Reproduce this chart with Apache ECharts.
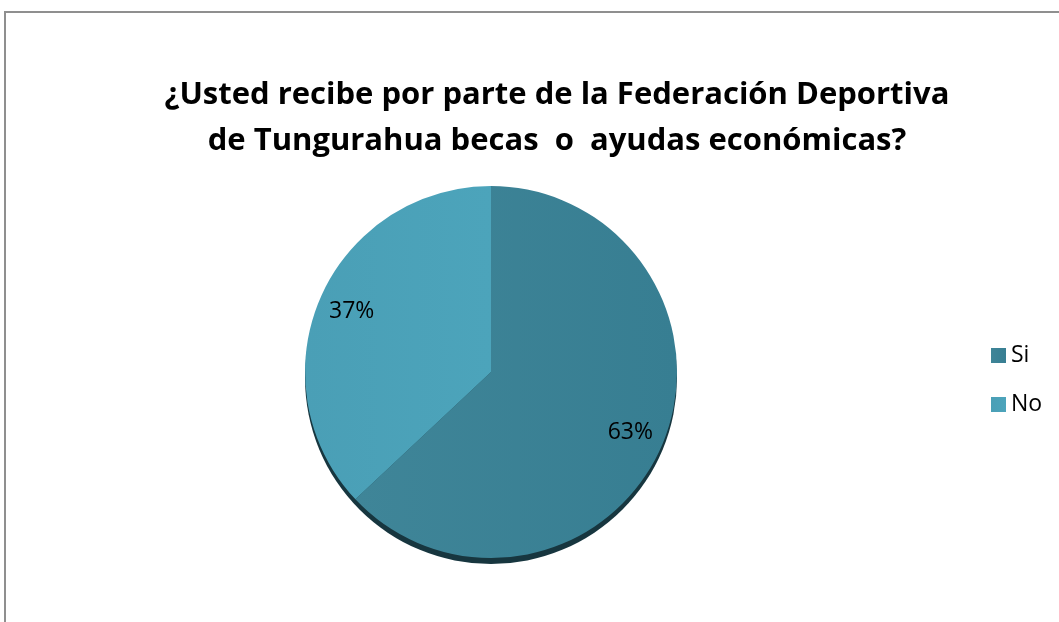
<!DOCTYPE html>
<html><head><meta charset="utf-8">
<script src="https://cdn.jsdelivr.net/npm/echarts@6/dist/echarts.min.js"></script>
<style>
html,body{margin:0;padding:0;background:#fff;}
#frame{position:absolute;left:4px;top:11px;width:1200px;height:800px;border:2px solid #8f8f8f;box-sizing:border-box;}
#c{position:absolute;left:0;top:0;width:1059px;height:622px;}
</style></head>
<body>
<div id="frame"></div>
<div id="c"></div>
<script>
var titleText = "¿Usted recibe por parte de la Federación Deportiva\nde Tungurahua becas  o  ayudas económicas?";
var categories = ["Si", "No"];
var values = [63, 37];
var colors = ["#3c8397", "#4ba2b9"];

var data = categories.map(function(c, i){ return {name: c, value: values[i]}; });
var total = values.reduce(function(a,b){return a+b;}, 0);

var chart = echarts.init(document.getElementById('c'), null, {renderer:'canvas'});
var R = 186, CX = 491, CY = 372;
chart.setOption({
  animation:false,
  backgroundColor:'transparent',
  title:{
    text:titleText, left:552, top:67, textAlign:'center',
    textStyle:{fontFamily:'Open Sans', fontWeight:'bold', fontSize:31, color:'#000', lineHeight:46}
  },
  legend:{
    orient:'vertical', left:986, top:339, itemWidth:15, itemHeight:15, itemGap:26,
    data:categories, icon:'rect',
    textStyle:{fontFamily:'Open Sans', fontSize:23, color:'#000'}
  },
  color:colors,
  series:[
    {
      type:'pie', silent:true, center:[CX, CY+6], radius:[0, R], startAngle:90,
      data:[{name:'_shadow', value: total}],
      itemStyle:{color:'#17363f'}, label:{show:false}, labelLine:{show:false},
      legendHoverLink:false
    },
    {
      type:'pie', center:[CX, CY], radius:[0, R], startAngle:90, clockwise:true,
      data:data.map(function(d,i){
        return {name:d.name, value:d.value, itemStyle:{color:{
          type:'linear', x:0, y:0, x2:1, y2:0,
          colorStops: i===0 ? [{offset:0,color:'#3f8598'},{offset:1,color:'#377e92'}]
                            : [{offset:0,color:'#4a9fb6'},{offset:1,color:'#4ca4bb'}]
        }}};
      }),
      label:{show:false}, labelLine:{show:false}
    },
    {
      type:'pie', silent:true, center:[CX, CY], radius:[R*0.6, R], startAngle:90, clockwise:true,
      data:data,
      itemStyle:{color:'rgba(0,0,0,0)'},
      label:{show:true, position:'inside', formatter:'{d}%', fontFamily:'Open Sans', fontSize:23, color:'#000'},
      labelLine:{show:false}
    }
  ]
});
</script>
</body></html>
